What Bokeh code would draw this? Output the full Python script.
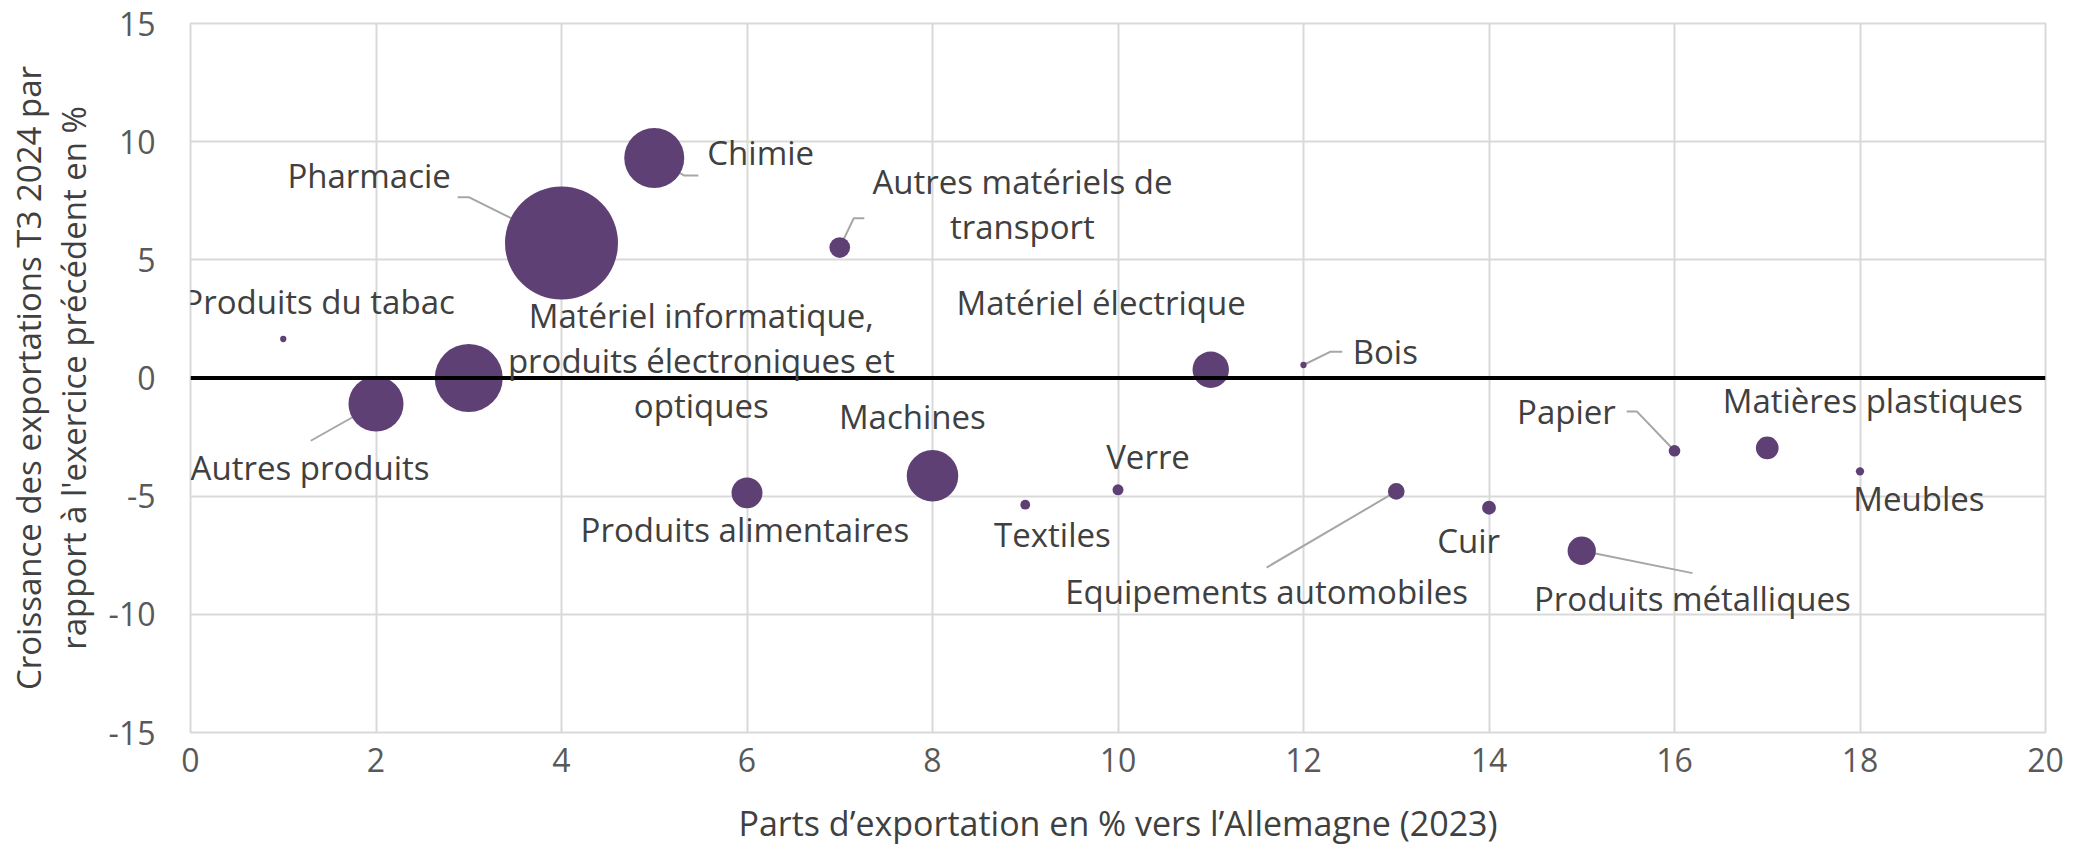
from bokeh.plotting import figure
from bokeh.models import Range1d, Span, ColumnDataSource, FixedTicker, LabelSet
from bokeh.core.properties import value
from bokeh.embed import file_html
from bokeh.resources import INLINE

# ---------------- data ----------------
sectors = [
    "Produits du tabac", "Autres produits",
    "Matériel informatique,\nproduits électroniques et\noptiques",
    "Pharmacie", "Chimie", "Autres matériels de\ntransport",
    "Matériel électrique", "Bois", "Machines", "Produits alimentaires",
    "Textiles", "Verre", "Equipements automobiles", "Cuir",
    "Produits métalliques", "Papier", "Matières plastiques", "Meubles",
]
share_de = [1, 2, 3, 4, 5, 7, 11, 12, 8, 6, 9, 10, 13, 14, 15, 16, 17, 18]
growth = [1.65, -1.1, 0.0, 5.71, 9.31, 5.52, 0.35, 0.55, -4.14, -4.86,
          -5.36, -4.73, -4.8, -5.49, -7.31, -3.08, -2.96, -3.95]
bubble = [0.31, 23.7, 36.2, 100.0, 28.2, 3.36, 10.4, 0.31, 20.8, 7.5,
          0.75, 0.95, 2.18, 1.49, 6.27, 1.07, 4.04, 0.54]

x_ticks = [0, 2, 4, 6, 8, 10, 12, 14, 16, 18, 20]
y_ticks = [-15, -10, -5, 0, 5, 10, 15]
y_tick_labels = {-15: "-15", -10: "-10", -5: "-5"}
x_title = "Parts d’exportation en % vers l’Allemagne (2023)"
y_title = "Croissance des exportations T3 2024 par\nrapport à l'exercice précédent en %"

# ---------------- layout of labels (data coords) ----------------
label_pos = {
    "Produits du tabac": (1.386, 2.72, "center"),
    "Pharmacie": (1.926, 8.055, "center"),
    "Chimie": (5.572, 9.03, "left"),
    "Autres matériels de\ntransport": (8.97, 7.765, "center"),
    "Matériel informatique,\nproduits électroniques et\noptiques": (5.507, 2.13, "center"),
    "Matériel électrique": (9.818, 2.68, "center"),
    "Bois": (12.53, 0.605, "left"),
    "Machines": (7.783, -2.14, "center"),
    "Autres produits": (1.289, -4.306, "center"),
    "Produits alimentaires": (5.977, -6.96, "center"),
    "Textiles": (9.293, -7.172, "center"),
    "Verre": (10.324, -3.84, "center"),
    "Equipements automobiles": (11.602, -9.555, "center"),
    "Cuir": (13.78, -7.384, "center"),
    "Produits métalliques": (16.193, -9.852, "center"),
    "Papier": (15.367, -1.948, "right"),
    "Matières plastiques": (18.139, -1.499, "center"),
    "Meubles": (18.635, -5.618, "center"),
}
leaders = {
    "Pharmacie": [(3.0, 7.65), (2.88, 7.65)],
    "Chimie": [(5.324, 8.566), (5.475, 8.566)],
    "Autres matériels de\ntransport": [(7.15, 6.757), (7.265, 6.757)],
    "Matériel informatique,\nproduits électroniques et\noptiques": [(3.213, -0.186), (3.35, -0.186)],
    "Autres produits": [(1.297, -2.655)],
    "Bois": [(12.292, 1.113), (12.418, 1.113)],
    "Papier": [(15.593, -1.414), (15.485, -1.414)],
    "Equipements automobiles": [(11.602, -8.019)],
    "Produits métalliques": [(16.194, -8.256)],
}

FONT = "Open Sans"
PURPLE = "#5f4074"
W, H = 2070, 849
BL, BR, BT, BB = 190, 25, 23, 117

p = figure(width=W, height=H, output_backend="svg", toolbar_location=None,
           x_range=Range1d(0, 20), y_range=Range1d(-15, 15),
           min_border_left=BL, min_border_right=BR, min_border_top=BT,
           min_border_bottom=BB)
p.outline_line_color = "#d9d9d9"
p.outline_line_width = 2
p.background_fill_color = "white"
p.border_fill_color = "white"

p.xaxis.ticker = FixedTicker(ticks=x_ticks)
p.yaxis.ticker = FixedTicker(ticks=y_ticks)
p.yaxis.major_label_overrides = y_tick_labels
p.xgrid.ticker = FixedTicker(ticks=x_ticks)
p.ygrid.ticker = FixedTicker(ticks=y_ticks)
for g in (p.xgrid, p.ygrid):
    g.grid_line_color = "#d9d9d9"
    g.grid_line_width = 2

for ax in (p.xaxis, p.yaxis):
    ax.axis_line_color = None
    ax.major_tick_line_color = None
    ax.minor_tick_line_color = None
    ax.major_tick_out = 0
    ax.major_tick_in = 0
    ax.minor_tick_out = 0
    ax.minor_tick_in = 0
    ax.major_label_text_font = FONT
    ax.major_label_text_font_size = "32px"
    ax.major_label_text_color = "#595959"
    ax.axis_label_text_font = FONT
    ax.axis_label_text_font_style = "normal"
    ax.axis_label_text_color = "#404040"

p.xaxis.axis_label = x_title
p.xaxis.axis_label_text_font_size = "34px"
p.xaxis.major_label_standoff = 15
p.xaxis.axis_label_standoff = 25

p.yaxis.axis_label = y_title
p.yaxis.axis_label_text_font_size = "33px"
p.yaxis.axis_label_text_line_height = 1.0
p.yaxis.major_label_standoff = 35
p.yaxis.axis_label_standoff = 10

p.add_layout(Span(location=0, dimension="width", line_color="black", line_width=4))

# leader lines
lx, ly = [], []
for i, name in enumerate(sectors):
    if name in leaders:
        pts = [(share_de[i], growth[i])] + leaders[name]
        lx.append([pt[0] for pt in pts])
        ly.append([pt[1] for pt in pts])
p.multi_line(lx, ly, line_color="#a6a6a6", line_width=2)

# bubbles (area proportional to bubble value)
diam = [113 * (b / 100.0) ** 0.5 for b in bubble]
src = ColumnDataSource(dict(x=share_de, y=growth, d=diam))
p.scatter("x", "y", size="d", source=src, fill_color=PURPLE, line_color=None)

# labels
LINE_GAP = 45
for align in ("left", "center", "right"):
    tx, ty, tt, toff = [], [], [], []
    for name in sectors:
        x0, y0, a = label_pos[name]
        if a != align:
            continue
        for k, line in enumerate(name.split("\n")):
            tx.append(x0)
            ty.append(y0)
            tt.append(line)
            toff.append(-k * LINE_GAP)
    if tx:
        s = ColumnDataSource(dict(x=tx, y=ty, t=tt, o=toff))
        p.add_layout(LabelSet(x="x", y="y", text="t", y_offset="o", source=s,
                              text_align=align, text_baseline="alphabetic",
                              text_font=value(FONT), text_font_size="33px",
                              text_color="#404040"))

open("out.html", "w").write(file_html(p, INLINE))
